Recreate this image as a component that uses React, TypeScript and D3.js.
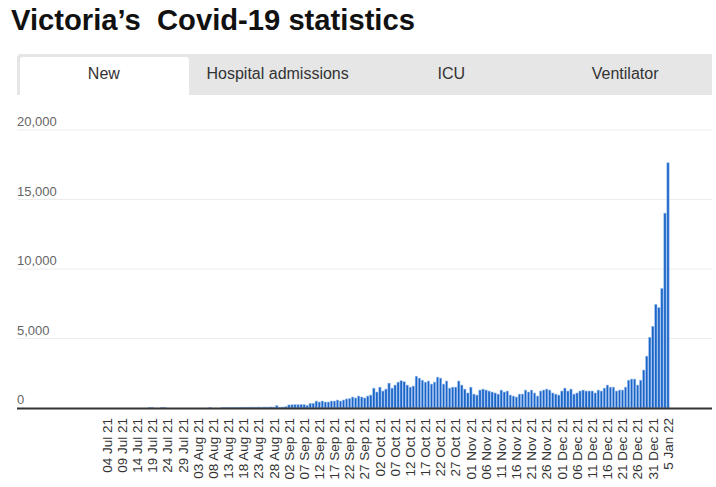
import React from "react";
import * as d3 from "d3";

// Daily new cases, Victoria, from 04 Jul 2021 (day 0) to 05 Jan 2022 (day 185)
const earlyCases = [
  0, 0, 0, 0, 0, 0, 0, 0, 0, 0, 0, 0, 0, 0, 25, 25, 0, 0, 25, 25,
  0, 0, 0, 0, 0, 0, 0, 0, 0, 0, 0, 0, 0, 0, 30, 0, 0, 0, 30, 30,
  30, 45, 50, 40, 55, 60, 55, 60, 65, 60, 70, 60, 70, 65, 75, 70, 170, 60, 70, 100,
  220, 230, 240, 230, 250, 240, 190, 335, 340, 500, 430, 500, 430, 430, 500, 500, 575, 500, 575, 650,
];
const lateCases = [
  670, 790, 720, 860, 790, 720, 860, 930, 1430, 1150, 1500, 1220, 1360, 1790, 1430, 1650, 1860, 1960, 1890, 1650,
  1500, 1580, 2290, 2150, 2000, 1860, 1940, 1720, 1860, 2220, 2150, 1720, 1940, 1430, 1500, 1500, 1940, 1650, 1360, 1080,
  1500, 1000, 930, 1290, 1360, 1290, 1220, 1150, 1080, 1000, 1290, 1150, 1220, 930, 860, 790, 1000, 1000, 1290, 1150,
  1290, 1080, 860, 1220, 1290, 1360, 1290, 1080, 1000, 930, 1220, 1430, 1220, 1360, 1000, 1080, 1220, 1290, 1220, 1220,
  1220, 1080, 1290, 1220, 1430, 1650, 1500, 1500, 1220, 1290, 1290, 1500, 2000, 2080, 2080, 1650, 2000, 2730, 3730, 5090,
  5880, 7460, 7220, 8600, 14020, 17640,
];
const cases = [...earlyCases, ...lateCases];

const startDate = new Date(2021, 6, 4);
const endDate = new Date(2022, 0, 5);
const dates = cases.map((_, i) => d3.timeDay.offset(startDate, i));

const tabs = ["New", "Hospital admissions", "ICU", "Ventilator"];
const yTicks = [0, 5000, 10000, 15000, 20000];
const tickDates = d3.range(0, 186, 5).map((i) => d3.timeDay.offset(startDate, i));

const W = 716;
const H = 487;
const FONT = "Arial, 'Liberation Sans', Helvetica, sans-serif";

export default function App() {
  const plotLeft = 17;
  const plotRight = 712;
  const x = d3.scaleTime().domain([startDate, endDate]).range([107, 668]);
  const y = d3.scaleLinear().domain([0, 20000]).range([408, 130]);
  const barW = 2.3;
  const fmt = d3.timeFormat("%d %b %y");
  const fmtLast = d3.timeFormat("%-d %b %y");

  const tabW = (plotRight - plotLeft) / tabs.length;

  return (
    <svg
      width={W}
      height={H}
      style={{ position: "absolute", left: 0, top: 0, display: "block", background: "#fff" }}
      fontFamily={FONT}
    >
      <text x={11} y={30} fontSize={29.2} fontWeight="bold" fill="#111" style={{ whiteSpace: "pre" }}>
        {"Victoria’s  Covid-19 statistics"}
      </text>

      {/* tabs */}
      <path d={`M${plotLeft},95 V58 Q${plotLeft},54 ${plotLeft + 4},54 H${plotRight} V95 Z`} fill="#e6e6e6" />
      <path d="M20,95 V60 Q20,57 23,57 H186 Q189,57 189,60 V95 Z" fill="#fff" />
      {tabs.map((t, i) => (
        <text
          key={t}
          x={plotLeft + tabW * i + tabW / 2}
          y={79}
          textAnchor="middle"
          fontSize={16}
          fill="#333"
        >
          {t}
        </text>
      ))}

      {/* grid + y labels */}
      {yTicks.map((v) => (
        <g key={v}>
          {v > 0 && <line x1={plotLeft} x2={plotRight} y1={y(v)} y2={y(v)} stroke="#ececec" strokeWidth={1} />}
          <text x={plotLeft} y={y(v) - 4} fontSize={13} fill="#666">
            {d3.format(",")(v)}
          </text>
        </g>
      ))}

      {/* bars */}
      {cases.map((c, i) =>
        c > 0 ? (
          <rect
            key={i}
            x={x(dates[i]) - barW / 2}
            y={y(c)}
            width={barW}
            height={y(0) - y(c)}
            fill="#1a64c8"
            stroke="#9dc0ee"
            strokeWidth={0.6}
          />
        ) : null
      )}

      {/* baseline */}
      <line x1={plotLeft} x2={plotRight} y1={y(0) + 0.5} y2={y(0) + 0.5} stroke="#333" strokeWidth={2} />

      {/* x labels */}
      {tickDates.map((d, i) => (
        <text
          key={i}
          transform={`translate(${x(d)},418) rotate(-90)`}
          textAnchor="end"
          dy="0.35em"
          fontSize={13.5}
          fill="#333"
        >
          {i === tickDates.length - 1 ? fmtLast(d) : fmt(d)}
        </text>
      ))}
    </svg>
  );
}
